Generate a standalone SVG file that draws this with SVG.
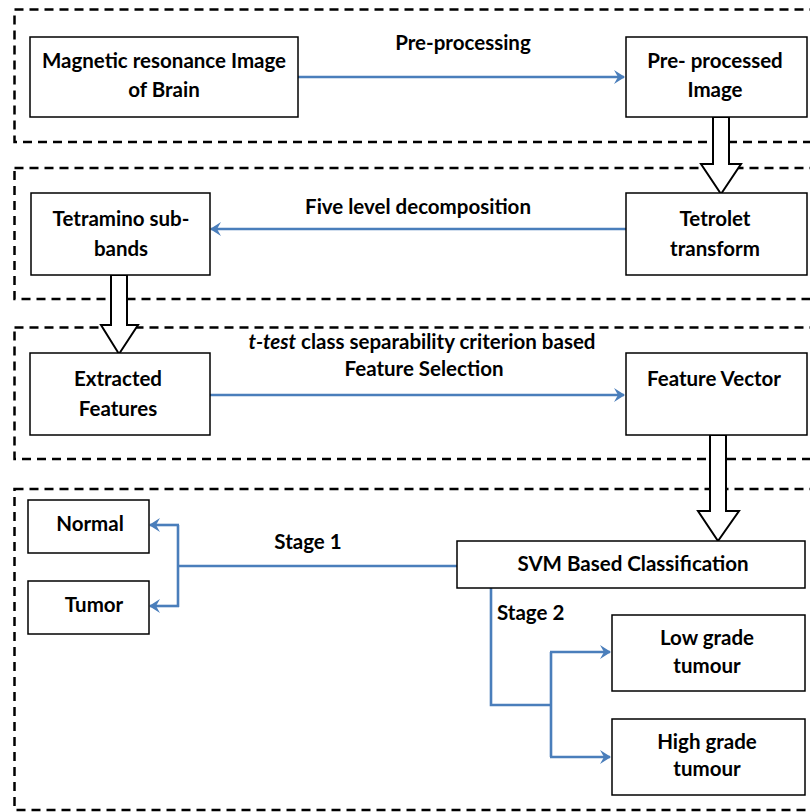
<svg xmlns="http://www.w3.org/2000/svg" width="810" height="812" viewBox="0 0 810 812">
<style>
.panel{fill:none;stroke:#000;stroke-width:2.5;stroke-dasharray:9,6}
.node{fill:#fff;stroke:#000;stroke-width:1.5}
.t{font-family:Lato,"Open Sans","Liberation Sans",sans-serif;font-weight:bold;font-size:20.5px;fill:#000;text-anchor:middle;dominant-baseline:central}
.blue{fill:none;stroke:#4A7EBB;stroke-width:2.6}
.block{fill:#fff;stroke:#000;stroke-width:2}
</style>
<defs>
<marker id="ah" markerWidth="16" markerHeight="16" refX="12" refY="8" orient="auto" markerUnits="userSpaceOnUse">
<path d="M2,1 L13,8 L2,15 L6,8 Z" fill="#4A7EBB"/>
</marker>
<clipPath id="clipT"><rect x="0" y="320" width="596" height="40"/></clipPath>
</defs>
<rect width="810" height="812" fill="#fff"/>
<g id="panels">
<rect class="panel" x="14.5" y="9.5" width="820" height="132.5"/>
<rect class="panel" x="14.5" y="168" width="820" height="131"/>
<rect class="panel" x="14.5" y="327.5" width="820" height="131.5"/>
<rect class="panel" x="14.5" y="489" width="820" height="321"/>
</g>
<g id="connectors">
<line class="blue" x1="298" y1="77" x2="624" y2="77" marker-end="url(#ah)"/>
<line class="blue" x1="626" y1="229" x2="211" y2="229" marker-end="url(#ah)"/>
<line class="blue" x1="209" y1="395" x2="624" y2="395" marker-end="url(#ah)"/>
<polyline class="blue" points="457,566 178,566"/>
<polyline class="blue" points="178,525 178,607"/>
<line class="blue" x1="179" y1="525" x2="150" y2="525" marker-end="url(#ah)"/>
<line class="blue" x1="179" y1="606" x2="150" y2="606" marker-end="url(#ah)"/>
<polyline class="blue" points="491,588 491,705 551,705"/>
<polyline class="blue" points="551,652 551,757"/>
<line class="blue" x1="550" y1="652" x2="610" y2="652" marker-end="url(#ah)"/>
<line class="blue" x1="550" y1="757" x2="610" y2="757" marker-end="url(#ah)"/>
<polygon class="block" points="713,117 729,117 729,164 741,164 721,194 701,164 713,164"/>
<polygon class="block" points="111,275 127,275 127,325 138,325 119,354 101,325 111,325"/>
<polygon class="block" points="710,435 726,435 726,511 739,511 718,541 698,511 710,511"/>
<text class="t" x="463" y="42">Pre-processing</text>
<text class="t" x="418" y="206">Five level decomposition</text>
<g clip-path="url(#clipT)"><text class="t" x="422" y="341"><tspan font-style="italic">t-test</tspan> class separability criterion based</text></g>
<text class="t" x="424" y="368">Feature Selection</text>
<text class="t" x="308" y="541">Stage 1</text>
<text class="t" x="497" y="612" style="text-anchor:start">Stage 2</text>
</g>
<g id="mri"><rect class="node" x="30" y="37" width="268" height="80"/><text class="t" x="164" y="60">Magnetic resonance Image</text><text class="t" x="164" y="89">of Brain</text></g>
<g id="preprocessed"><rect class="node" x="626" y="37" width="181" height="80"/><text class="t" x="715" y="60">Pre- processed</text><text class="t" x="715" y="89">Image</text></g>
<g id="tetramino"><rect class="node" x="31" y="193" width="179" height="82"/><text class="t" x="121" y="218">Tetramino sub-</text><text class="t" x="121" y="248">bands</text></g>
<g id="tetrolet"><rect class="node" x="626" y="193" width="181" height="82"/><text class="t" x="715" y="218">Tetrolet</text><text class="t" x="715" y="248">transform</text></g>
<g id="extracted"><rect class="node" x="30" y="353" width="180" height="82"/><text class="t" x="118" y="378">Extracted</text><text class="t" x="118" y="408">Features</text></g>
<g id="featurevector"><rect class="node" x="626" y="353" width="181" height="82"/><text class="t" x="714" y="378">Feature Vector</text></g>
<g id="normal"><rect class="node" x="28" y="500" width="121" height="53"/><text class="t" x="90" y="523">Normal</text></g>
<g id="tumor"><rect class="node" x="28" y="581" width="121" height="53"/><text class="t" x="94" y="604">Tumor</text></g>
<g id="svm"><rect class="node" x="457" y="541" width="348" height="47"/><text class="t" x="633" y="563">SVM Based Classification</text></g>
<g id="low"><rect class="node" x="612" y="615" width="193" height="76"/><text class="t" x="707" y="637">Low grade</text><text class="t" x="707" y="665">tumour</text></g>
<g id="high"><rect class="node" x="612" y="719" width="193" height="76"/><text class="t" x="707" y="741">High grade</text><text class="t" x="707" y="768">tumour</text></g>
</svg>
